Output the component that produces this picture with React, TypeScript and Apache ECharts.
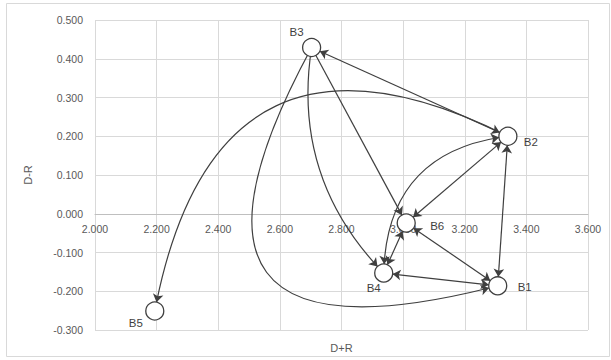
import React, { useEffect, useRef } from "react";
import * as echarts from "echarts";

// Node data
const nodeNames = ["B1", "B2", "B3", "B4", "B5", "B6"];
const dPlusR = [3.307, 3.34, 2.703, 2.937, 2.194, 3.01];
const dMinusR = [-0.186, 0.2, 0.429, -0.153, -0.251, -0.024];

// Influence links
const linkSource = ["B3", "B2", "B3", "B3", "B3", "B2", "B6", "B4", "B6", "B6", "B4"];
const linkTarget = ["B2", "B5", "B6", "B4", "B1", "B1", "B2", "B2", "B4", "B1", "B1"];
const linkBothWays = [true, false, false, false, false, true, true, true, true, true, true];

// Axis ticks
const xMin = 2.0;
const xMax = 3.6;
const xStep = 0.2;
const yMin = -0.3;
const yMax = 0.5;
const yStep = 0.1;

// styling (not data)
const linkCurveness = [0, -0.66, 0, -0.25, -1.15, 0, 0, 0.43, 0, 0, 0];
const labelOffsets: Record<string, [number, number]> = {
  B1: [27, 1],
  B2: [23, 6],
  B3: [-15, -16],
  B4: [-10, 15],
  B5: [-19, 12],
  B6: [31, 3],
};

const FONT = "'Liberation Sans', Arial, sans-serif";
const LINE = "#3f3f3f";
const GRIDC = "#d9d9d9";
const TXT = "#595959";

const GRID_TOP = 20;
const GRID_BOTTOM = 30;
const CHART_H = 360;

export default function App() {
  const ref = useRef<HTMLDivElement>(null);
  useEffect(() => {
    if (!ref.current) return;
    const chart = echarts.init(ref.current, undefined, { renderer: "svg" });
    const nodes = nodeNames.map((n, i) => ({
      name: n,
      value: [dPlusR[i], dMinusR[i]],
      label: { offset: labelOffsets[n] },
    }));
    const links = linkSource.map((s, i) => ({
      source: s,
      target: linkTarget[i],
      symbol: linkBothWays[i] ? ["arrow", "arrow"] : ["none", "arrow"],
      lineStyle: { curveness: linkCurveness[i] },
    }));
    // place the x axis on y = 0 (onZero equivalent)
    const plotH = CHART_H - GRID_TOP - GRID_BOTTOM;
    const zeroFromBottom = ((0 - yMin) / (yMax - yMin)) * plotH;
    chart.setOption({
      animation: false,
      textStyle: { fontFamily: FONT },
      graphic: [
        {
          type: "rect",
          shape: { x: 6.5, y: 3.5, width: 603, height: 353 },
          style: { fill: "none", stroke: GRIDC, lineWidth: 1 },
          z: -10,
        },
      ],
      grid: {
        left: 95,
        right: 23,
        top: GRID_TOP,
        bottom: GRID_BOTTOM,
        containLabel: false,
        outerBoundsMode: "none",
      },
      xAxis: {
        type: "value",
        min: xMin,
        max: xMax,
        interval: xStep,
        offset: -zeroFromBottom,
        name: "D+R",
        nameLocation: "middle",
        nameGap: 129,
        nameTextStyle: { color: TXT, fontSize: 11, fontFamily: FONT },
        axisLine: { show: true, onZero: false, lineStyle: { color: "#bfbfbf" } },
        axisTick: { show: false },
        axisLabel: {
          color: TXT,
          fontSize: 10.5,
          margin: 10,
          fontFamily: FONT,
          formatter: (v: number) => v.toFixed(3),
        },
        splitLine: { show: true, lineStyle: { color: GRIDC } },
      },
      yAxis: {
        type: "value",
        min: yMin,
        max: yMax,
        interval: yStep,
        name: "D-R",
        nameLocation: "middle",
        nameGap: 62,
        nameTextStyle: { color: TXT, fontSize: 11, fontFamily: FONT },
        axisLine: { show: false, onZero: false },
        axisTick: { show: false },
        axisLabel: {
          color: TXT,
          fontSize: 10.5,
          margin: 12,
          fontFamily: FONT,
          formatter: (v: number) => v.toFixed(3),
        },
        splitLine: { show: true, lineStyle: { color: GRIDC } },
      },
      series: [
        {
          type: "graph",
          coordinateSystem: "cartesian2d",
          layout: "none",
          silent: true,
          symbol: "circle",
          symbolSize: 18,
          edgeSymbolSize: 8,
          itemStyle: { color: "#ffffff", borderColor: LINE, borderWidth: 1.3 },
          lineStyle: { color: LINE, width: 1.2, opacity: 1 },
          label: {
            show: true,
            position: "inside",
            color: LINE,
            fontSize: 11.5,
            fontFamily: FONT,
          },
          emphasis: { disabled: true },
          data: nodes,
          links: links,
          z: 5,
        },
      ],
    });
    return () => chart.dispose();
  }, []);
  return (
    <div
      ref={ref}
      style={{ position: "fixed", left: 0, top: 0, width: 611, height: 360, background: "#fff" }}
    />
  );
}
